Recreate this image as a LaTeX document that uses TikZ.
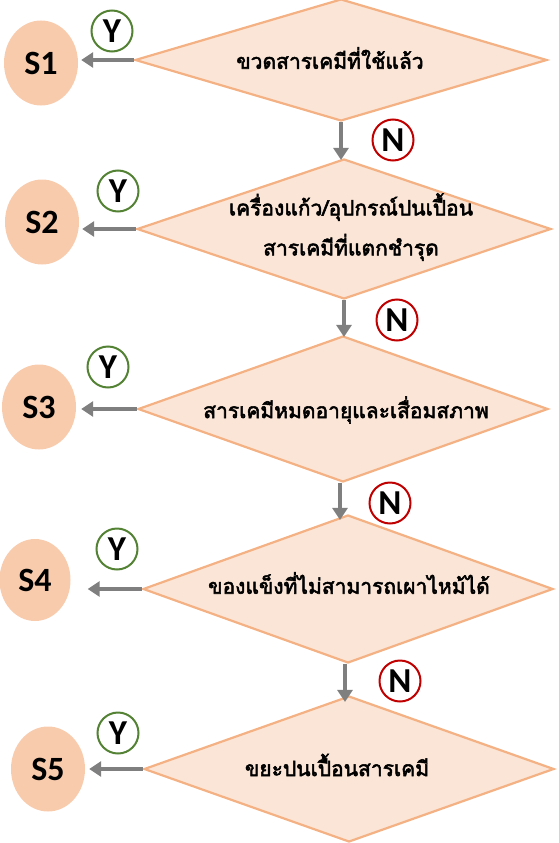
\documentclass[tikz,border=0pt]{standalone}
\usepackage{fontspec}
\setmainfont{Carlito}
\newfontfamily\thaifont[Script=Thai, FakeBold=2.5]{Loma}
\usetikzlibrary{shapes.geometric,arrows.meta}
\definecolor{dfill}{HTML}{FBE5D6}
\definecolor{dline}{HTML}{F4B183}
\definecolor{sfill}{HTML}{F8CBAD}
\definecolor{ygreen}{HTML}{548235}
\definecolor{nred}{HTML}{C00000}
\definecolor{agray}{HTML}{7F7F7F}
\begin{document}
\begin{tikzpicture}[x=1pt,y=-1pt,
  dia/.style={diamond, draw=dline, fill=dfill, line width=2.2pt, inner sep=0pt},
  dtext/.style={font=\thaifont\fontsize{21}{40}\selectfont, align=center, inner sep=0pt},
  sbox/.style={ellipse, fill=sfill, minimum width=74pt, minimum height=85pt, inner sep=0pt,
    font=\bfseries\fontsize{34}{34}\selectfont},
  ybox/.style={circle, draw=ygreen, line width=2pt, fill=white, minimum size=41pt, inner sep=0pt,
    font=\bfseries\fontsize{35}{35}\selectfont},
  nbox/.style={circle, draw=nred, line width=2pt, fill=white, minimum size=41pt, inner sep=0pt,
    font=\bfseries\fontsize{35}{35}\selectfont},
  arr/.style={draw=agray, line width=3.6pt, -{Triangle[length=12pt,width=15pt]}}
]
\useasboundingbox (0,0) rectangle (558,843);

% diamonds
\node[dia, minimum width=412pt, minimum height=122pt] (d1) at (341,60) {};
\node[dia, minimum width=414pt, minimum height=140pt] (d2) at (344,229) {};
\node[dia, minimum width=410pt, minimum height=146pt] (d3) at (343,409) {};
\node[dia, minimum width=410pt, minimum height=148pt] (d4) at (348,589) {};
\node[dia, minimum width=410pt, minimum height=146pt] (d5) at (349,769) {};

% diamond texts
\node[dtext] (t1) at (330,58) {ขวดสารเคมีที่ใช้แล้ว};
\node[dtext] (t2) at (351,227) {เครื่องแก้ว/อุปกรณ์ปนเปื้อน\\สารเคมีที่แตกชำรุด};
\node[dtext] (t3) at (346,410) {สารเคมีหมดอายุและเสื่อมสภาพ};
\node[dtext] (t4) at (349,583) {ของแข็งที่ไม่สามารถเผาไหม้ได้};
\node[dtext] (t5) at (337,765) {ขยะปนเปื้อนสารเคมี};

% S circles
\node[sbox] (s1) at (41,63) {S1};
\node[sbox] (s2) at (42,222) {S2};
\node[sbox] (s3) at (39,407) {S3};
\node[sbox, minimum width=71pt, minimum height=82pt] (s4) at (35,580) {S4};
\node[sbox] (s5) at (48,769) {S5};

% Y labels
\node[ybox] (y1) at (112,31) {Y};
\node[ybox] (y2) at (118,191) {Y};
\node[ybox] (y3) at (108,367) {Y};
\node[ybox] (y4) at (117,549) {Y};
\node[ybox] (y5) at (118,733) {Y};

% N labels
\node[nbox] (n1) at (393,140) {N};
\node[nbox] (n2) at (397,320) {N};
\node[nbox] (n3) at (390,503) {N};
\node[nbox] (n4) at (400,681) {N};

% Y arrows
\draw[arr, shorten >=3pt] (d1.west) -- (d1.west -| s1.east);
\draw[arr, shorten >=3pt] (d2.west) -- (d2.west -| s2.east);
\draw[arr, shorten >=5pt] (d3.west) -- (d3.west -| s3.east);
\draw[arr, shorten >=17pt] (d4.west) -- (d4.west -| s4.east);
\draw[arr, shorten >=4pt] (d5.west) -- (d5.west -| s5.east);

% N arrows
\draw[arr] (d1.south) -- ([yshift=-2pt]d1.south |- d2.north);
\draw[arr] (d2.south) -- ([yshift=-2pt]d2.south |- d3.north);
\draw[arr] ([xshift=-3pt]d3.south) -- ([xshift=-3pt,yshift=-6pt]d3.south |- d4.north);
\draw[arr] ([xshift=-3pt]d4.south) -- ([xshift=-3pt,yshift=-7pt]d4.south |- d5.north);
\end{tikzpicture}
\end{document}
